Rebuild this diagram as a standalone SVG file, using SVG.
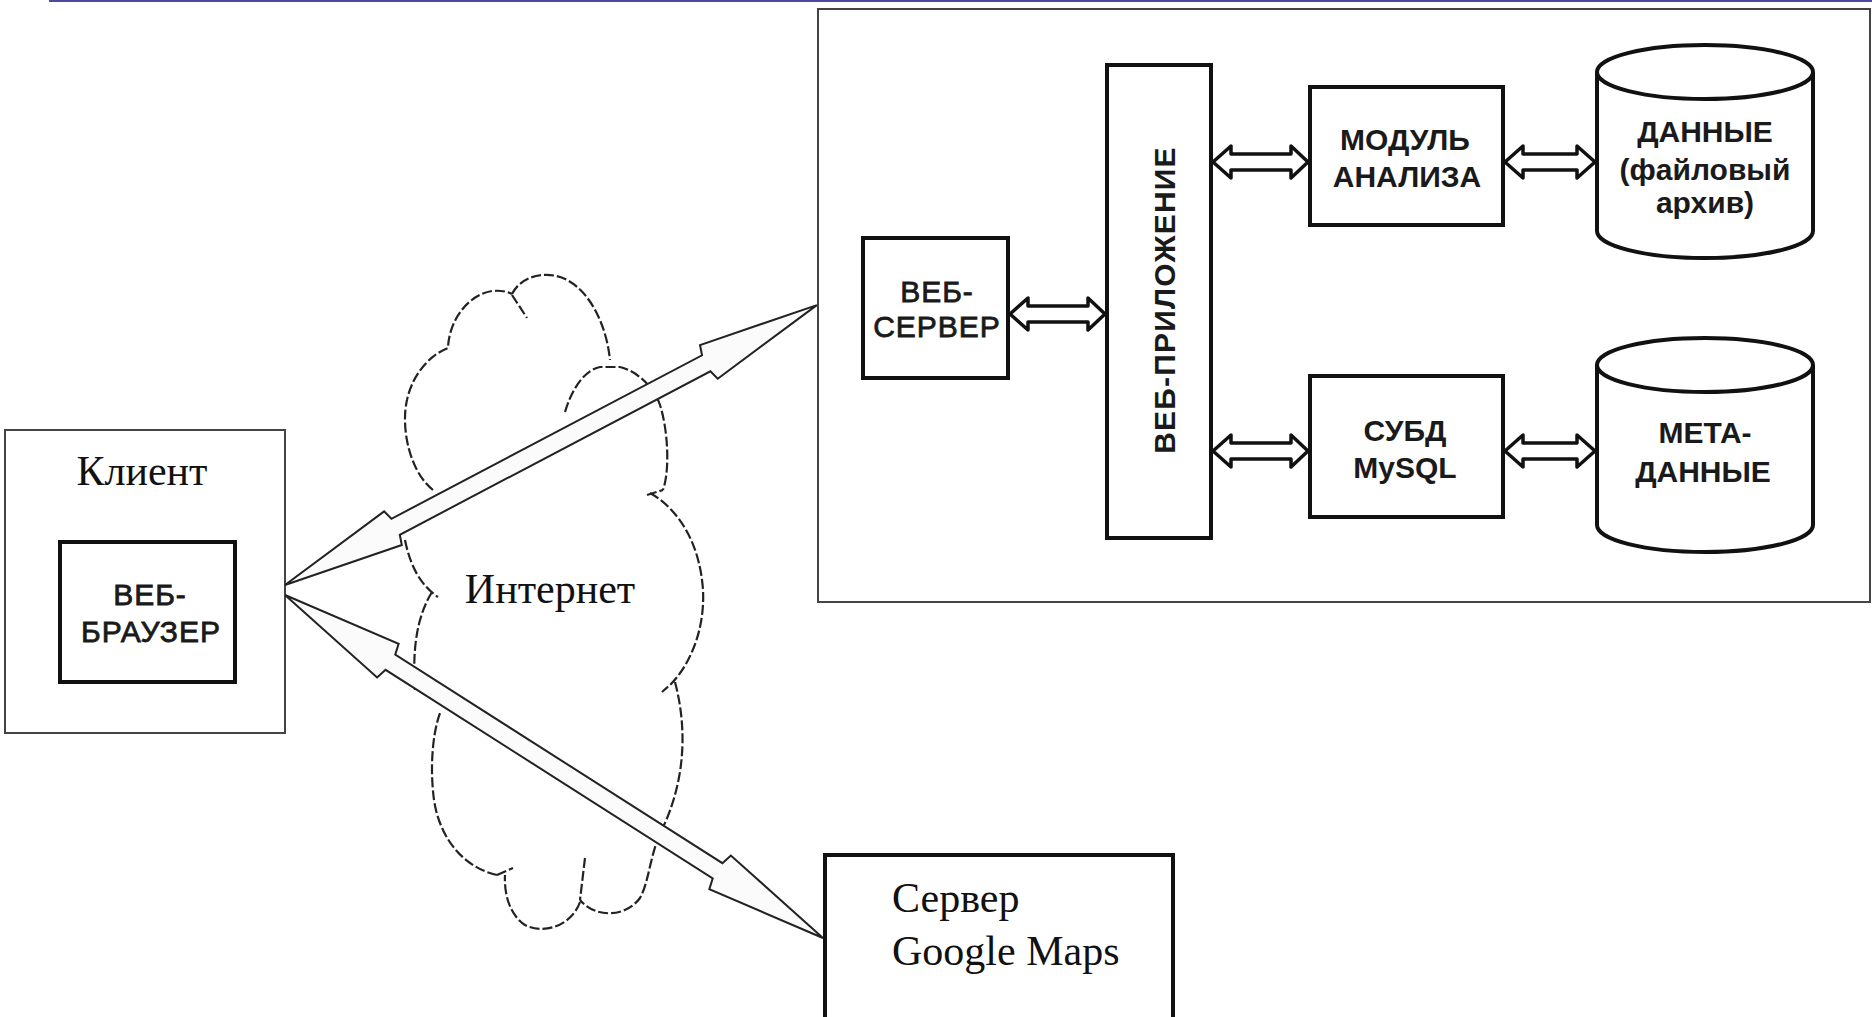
<svg xmlns="http://www.w3.org/2000/svg" width="1872" height="1017" viewBox="0 0 1872 1017">
  <style>
    .frame { fill: none; stroke: #444; stroke-width: 2; }
    .box { fill: #fff; stroke: #111; stroke-width: 4; }
    .cyl { fill: #fff; stroke: #111; stroke-width: 4; }
    .dbl { fill: #fff; stroke: #111; stroke-width: 3.5; stroke-linejoin: round; }
    .link { fill: #fbfbfb; stroke: #222; stroke-width: 2; stroke-linejoin: miter; }
    .cloud { fill: none; stroke: #222; stroke-width: 2.2; stroke-dasharray: 10 3; stroke-linecap: butt; }
    .lbl { font-family: "Liberation Sans", Arial, sans-serif; font-size: 30px; font-weight: bold; fill: #1a1a1a; text-anchor: middle; }
    .lbl-r { font-family: "Liberation Sans", Arial, sans-serif; font-size: 30px; fill: #1a1a1a; stroke: #1a1a1a; stroke-width: 0.8; text-anchor: middle; letter-spacing: 1px; }
    .serif { font-family: "Liberation Serif", "Times New Roman", serif; font-size: 42px; fill: #111; }
  </style>

  <rect width="1872" height="1017" fill="#fff"/>

  <!-- header rule -->
  <line x1="49" y1="1" x2="1872" y2="1" stroke="#4b4b9b" stroke-width="2"/>

  <!-- Internet cloud (dashed lobes) -->
  <g id="internet">
    <path class="cloud" d="M433,490 C408,470 401,425 407,400 C413,372 432,354 448,348 C449,320 468,295 492,291 C502,290 508,292 512,294"/>
    <path class="cloud" d="M512,294 C520,278 540,272 556,276 C585,282 606,320 610,360"/>
    <path class="cloud" d="M512,295 L527,318"/>
    <path class="cloud" d="M565,412 C572,388 585,370 600,367 L620,367 C640,372 655,390 660,405 C668,430 670,470 663,490"/>
    <path class="cloud" d="M647,495 L663,490"/>
    <path class="cloud" d="M650,493 C680,510 700,545 703,590 C705,630 690,665 670,685 L662,692"/>
    <path class="cloud" d="M675,682 C685,720 688,770 665,823 C650,850 650,880 640,898 C625,918 595,918 580,900"/>
    <path class="cloud" d="M585,858 L580,900"/>
    <path class="cloud" d="M580,902 C572,925 545,935 525,925 C510,915 504,895 505,875"/>
    <path class="cloud" d="M497,875 L513,868"/>
    <path class="cloud" d="M497,875 C465,868 440,840 434,800 C430,770 432,735 440,713"/>
    <path class="cloud" d="M405,540 C410,565 420,585 438,597"/>
    <path class="cloud" d="M432,592 C418,615 412,645 415,690"/>
    <text class="serif" x="550" y="603" text-anchor="middle">Интернет</text>
  </g>

  <!-- client -->
  <g id="client">
    <rect class="frame" x="5" y="430" width="280" height="303"/>
    <text class="serif" x="142" y="485" text-anchor="middle" font-size="40">Клиент</text>
  </g>
  <g id="web-browser">
    <rect class="box" x="60" y="542" width="175" height="140"/>
    <text class="lbl-r" x="150" y="605">ВЕБ-</text>
    <text class="lbl-r" x="151" y="642">БРАУЗЕР</text>
  </g>

  <!-- server side -->
  <g id="server">
    <rect class="frame" x="818" y="9" width="1052" height="593"/>
  </g>
  <g id="web-server">
    <rect class="box" x="863" y="238" width="145" height="140"/>
    <text class="lbl-r" x="937" y="302">ВЕБ-</text>
    <text class="lbl-r" x="937" y="337">СЕРВЕР</text>
  </g>
  <g id="web-app">
    <rect class="box" x="1107" y="65" width="104" height="473"/>
    <text class="lbl" transform="translate(1175,300) rotate(-90)" font-size="32" letter-spacing="1.2">ВЕБ-ПРИЛОЖЕНИЕ</text>
  </g>
  <g id="analysis-module">
    <rect class="box" x="1310" y="87" width="193" height="138"/>
    <text class="lbl" x="1405" y="150">МОДУЛЬ</text>
    <text class="lbl" x="1407" y="187">АНАЛИЗА</text>
  </g>
  <g id="dbms">
    <rect class="box" x="1310" y="376" width="193" height="141"/>
    <text class="lbl" x="1405" y="441">СУБД</text>
    <text class="lbl" x="1405" y="478">MySQL</text>
  </g>
  <g id="data-archive">
    <path class="cyl" d="M1597,72 L1597,231 A108,27 0 0 0 1813,231 L1813,72"/>
    <ellipse class="cyl" cx="1705" cy="72" rx="108" ry="27"/>
    <text class="lbl" x="1705" y="142">ДАННЫЕ</text>
    <text class="lbl" x="1705" y="180">(файловый</text>
    <text class="lbl" x="1705" y="213">архив)</text>
  </g>
  <g id="metadata">
    <path class="cyl" d="M1597,365 L1597,525 A108,27 0 0 0 1813,525 L1813,365"/>
    <ellipse class="cyl" cx="1705" cy="365" rx="108" ry="27"/>
    <text class="lbl" x="1705" y="443">МЕТА-</text>
    <text class="lbl" x="1703" y="482">ДАННЫЕ</text>
  </g>

  <!-- Google Maps server -->
  <g id="google-maps">
    <rect class="box" x="825" y="855" width="348" height="180"/>
    <text class="serif" x="892" y="912">Сервер</text>
    <text class="serif" x="892" y="965">Google Maps</text>
  </g>

  <!-- connectors -->
  <g id="connectors">
    <!-- browser <-> web server across the Internet -->
    <path class="link" transform="translate(285,585) rotate(-27.76)"
          d="M0,0 L122,-19 L125,-9 L476,-9 L479,-19 L601,0 L479,19 L476,9 L125,9 L122,19 Z"/>
    <!-- browser <-> Google Maps -->
    <path class="link" transform="translate(285,595) rotate(32.52)"
          d="M0,0 L122,-20 L125,-9 L513,-9 L516,-20 L638,0 L516,20 L513,9 L125,9 L122,20 Z"/>

    <!-- internal two-way links -->
    <path class="dbl" d="M1010,314 L1028,298 L1028,306 L1088,306 L1088,298 L1105,314 L1088,330 L1088,322 L1028,322 L1028,330 Z"/>
    <path class="dbl" d="M1213,162 L1231,146 L1231,154 L1291,154 L1291,146 L1308,162 L1291,178 L1291,170 L1231,170 L1231,178 Z"/>
    <path class="dbl" d="M1505,162 L1523,146 L1523,154 L1577,154 L1577,146 L1595,162 L1577,178 L1577,170 L1523,170 L1523,178 Z"/>
    <path class="dbl" d="M1213,451 L1231,435 L1231,443 L1291,443 L1291,435 L1308,451 L1291,467 L1291,459 L1231,459 L1231,467 Z"/>
    <path class="dbl" d="M1505,451 L1523,435 L1523,443 L1577,443 L1577,435 L1595,451 L1577,467 L1577,459 L1523,459 L1523,467 Z"/>
  </g>
</svg>
